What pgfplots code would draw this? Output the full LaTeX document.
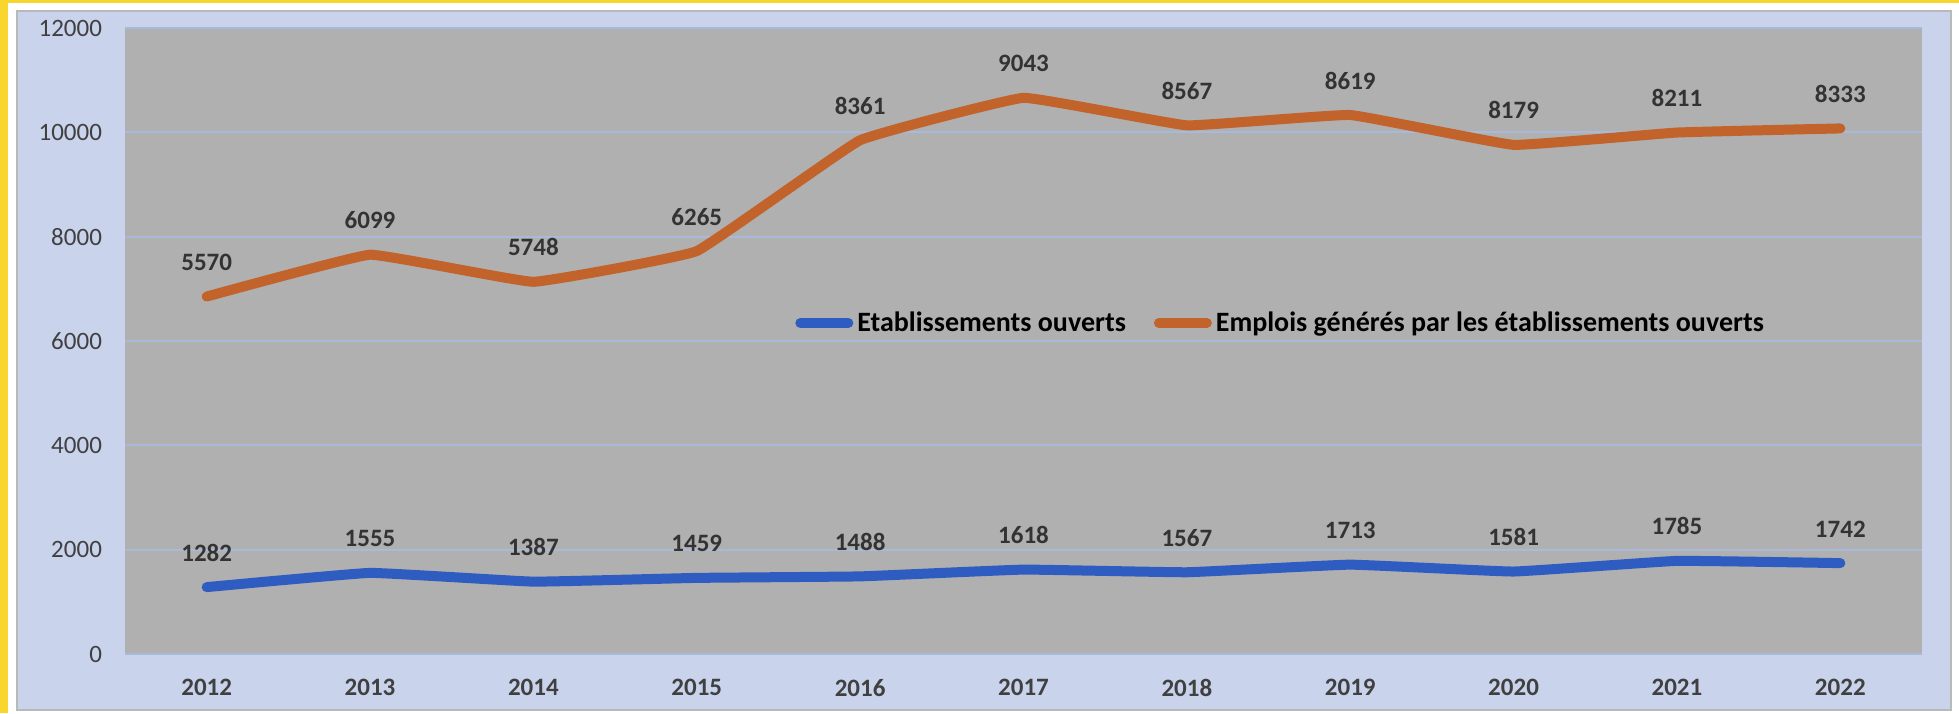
\documentclass[border=0pt]{standalone}
\usepackage{pgfplots}
\pgfplotsset{compat=1.18}
\usepackage{pgfplotstable}
\usepackage{fontspec}
\setmainfont{Carlito}

\definecolor{frameyellow}{HTML}{F8D62E}
\definecolor{panelblue}{HTML}{C9D4EC}
\definecolor{plotgray}{HTML}{B0B0B0}
\definecolor{gridblue}{HTML}{A8B9D9}
\definecolor{lineblue}{HTML}{2F5CC0}
\definecolor{lineorange}{HTML}{C1632A}
\definecolor{labelgray}{HTML}{333333}
\definecolor{tickgray}{HTML}{404040}

% emplois is stacked on top of etablissements (Excel stacked line)
\pgfplotstableread{
year etab emplois
2012 1282 5570
2013 1555 6099
2014 1387 5748
2015 1459 6265
2016 1488 8361
2017 1618 9043
2018 1567 8567
2019 1713 8619
2020 1581 8179
2021 1785 8211
2022 1742 8333
}\data

\begin{document}
\begin{tikzpicture}
\fill[frameyellow] (-62.5pt,-29.5pt) rectangle (917pt,327pt);
\fill[white] (-58.5pt,-29.5pt) rectangle (917pt,325.5pt);
\filldraw[fill=panelblue, draw=gray!55, line width=0.75pt] (-54pt,-28pt) rectangle (913pt,321.5pt);
\begin{axis}[
    at={(0,0)}, anchor=south west,
    scale only axis,
    width=898.5pt, height=313pt,
    xmin=2011.5, xmax=2022.5,
    ymin=0, ymax=12000,
    xtick={2012,2013,...,2022},
    ytick={0,2000,...,12000},
    scaled ticks=false,
    /pgf/number format/1000 sep={},
    /pgf/number format/assume math mode=true,
    axis line style={draw=none},
    major tick style={draw=none},
    axis background/.style={fill=plotgray},
    ymajorgrids,
    grid style={gridblue, line width=1pt},
    yticklabel style={font=\fontsize{12.5}{14}\selectfont, text=tickgray, xshift=-8pt},
    xticklabel style={font=\fontsize{12.5}{14}\selectfont\bfseries, text=tickgray, yshift=-9pt},
    stack plots=y,
    clip=false,
    point meta=explicit,
    nodes near coords,
    every node near coord/.append style={font=\fontsize{12.5}{14}\selectfont\bfseries, text=labelgray, anchor=base, yshift=13pt},
    legend columns=2,
    legend style={at={(0.3728,0.5288)}, anchor=west, draw=none, fill=none,
        font=\fontsize{14}{16}\selectfont\bfseries, inner sep=0pt,
        /tikz/every even column/.append style={column sep=12pt}},
    legend image code/.code={\draw[#1, line cap=round] (0pt,0pt) -- (24pt,0pt);},
]
\addplot[lineblue, line width=5pt, line cap=round, line join=round, smooth, tension=0.15]
    table[x=year, y=etab, meta=etab] {\data};
\addplot[lineorange, line width=5pt, line cap=round, line join=round, smooth, tension=0.15]
    table[x=year, y=emplois, meta=emplois] {\data};
\legend{Etablissements ouverts, Emplois générés par les établissements ouverts}
\end{axis}
\end{tikzpicture}
\end{document}
